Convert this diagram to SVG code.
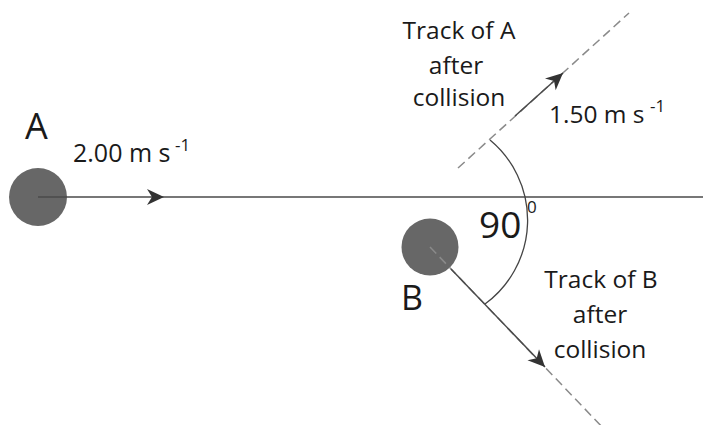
<svg xmlns="http://www.w3.org/2000/svg" width="703" height="425" viewBox="0 0 703 425">
  <style>
    text { font-family: "Open Sans", "Liberation Sans", sans-serif; fill: #1a1a1a; }
    .lbl { font-size: 24.5px; text-anchor: middle; }
    .ball { fill: #676767; }
    .solid { stroke: #4a4a4a; stroke-width: 1.5; fill: none; }
    .dash { stroke: #8a8a8a; stroke-width: 1.5; fill: none; stroke-dasharray: 9 5; }
    .arc { stroke: #444; stroke-width: 1.3; fill: none; }
  </style>
  <defs>
    <marker id="ah" viewBox="-18 -10 20 20" refX="0" refY="0" markerWidth="20" markerHeight="20" markerUnits="userSpaceOnUse" orient="auto">
      <path d="M0,0 L-17,-8 L-12,0 L-17,8 Z" fill="#333"/>
    </marker>
  </defs>
  <rect width="703" height="425" fill="#fff"/>

  <g id="ball-A">
    <circle class="ball" cx="38" cy="197" r="29"/>
    <text x="36.5" y="139" font-size="36" text-anchor="middle">A</text>
  </g>
  <g id="ball-B">
    <circle class="ball" cx="430" cy="247" r="28.5"/>
    <text x="412" y="310" font-size="34" text-anchor="middle">B</text>
  </g>

  <g id="connectors">
    <path class="solid" d="M38,197 L164,197" marker-end="url(#ah)"/>
    <path class="solid" d="M164,197 L703,197"/>
    <path class="dash" d="M458,168 L629,13"/>
    <path class="solid" d="M515,116 L563,73" marker-end="url(#ah)"/>
    <path class="dash" d="M430,247 L605,430"/>
    <path class="solid" d="M451,269 L545,367" marker-end="url(#ah)"/>
    <path class="arc" d="M490,140 A104,104 0 0,1 485,304"/>
  </g>

  <g id="label-speed-A">
    <text x="73" y="162" font-size="25">2.00 m s<tspan x="175" y="151" font-size="17">-1</tspan></text>
  </g>
  <g id="label-speed-A-after">
    <text x="549" y="123" font-size="24.5">1.50 m s<tspan x="650" y="112" font-size="17">-1</tspan></text>
  </g>
  <g id="label-track-A">
    <text class="lbl" x="459" y="39">Track of A</text>
    <text class="lbl" x="456" y="74">after</text>
    <text class="lbl" x="459" y="106">collision</text>
  </g>
  <g id="label-track-B">
    <text class="lbl" x="601" y="288">Track of B</text>
    <text class="lbl" x="600" y="323">after</text>
    <text class="lbl" x="600" y="358">collision</text>
  </g>
  <g id="label-angle">
    <text x="479" y="238" font-size="37">90</text>
    <text x="527" y="213" font-size="17">0</text>
  </g>
</svg>
